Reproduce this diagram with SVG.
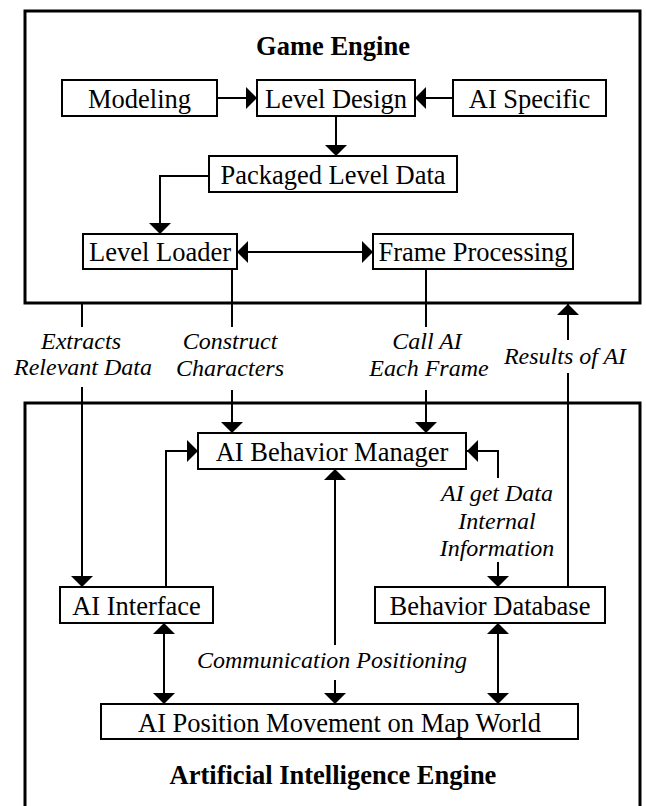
<svg xmlns="http://www.w3.org/2000/svg" width="646" height="806" viewBox="0 0 646 806">
  <style>
    .frame { fill: none; stroke: #000; stroke-width: 3; }
    .box { fill: #fff; stroke: #000; stroke-width: 2; }
    .node { font-family: "Liberation Serif", "Times New Roman", serif; font-size: 26.5px; text-anchor: middle; fill: #000; }
    .title { font-family: "Liberation Serif", "Times New Roman", serif; font-size: 26.5px; font-weight: bold; text-anchor: middle; fill: #000; }
    .lbl { font-family: "Liberation Serif", "Times New Roman", serif; font-size: 24px; font-style: italic; text-anchor: middle; fill: #000; }
    .wire { fill: none; stroke: #000; stroke-width: 2; }
  </style>
  <defs>
    <marker id="head" markerUnits="userSpaceOnUse" viewBox="0 0 11 22" markerWidth="11" markerHeight="22" refX="11" refY="11" orient="auto-start-reverse">
      <path d="M0,0 L11,11 L0,22 Z" fill="#000"/>
    </marker>
  </defs>
  <rect width="646" height="806" fill="#fff"/>

  <!-- engine frames -->
  <g id="game-engine">
    <rect class="frame" x="25" y="11" width="615" height="292"/>
    <text class="title" x="333" y="55">Game Engine</text>
  </g>
  <g id="ai-engine">
    <rect class="frame" x="25" y="403" width="615" height="420"/>
    <text class="title" x="333" y="784">Artificial Intelligence Engine</text>
  </g>

  <!-- connectors -->
  <g id="connectors">
    <line class="wire" x1="217" y1="98" x2="257" y2="98" marker-end="url(#head)"/>
    <line class="wire" x1="453" y1="98" x2="415" y2="98" marker-end="url(#head)"/>
    <line class="wire" x1="336" y1="116" x2="336" y2="156" marker-end="url(#head)"/>
    <path class="wire" d="M209,176 H160 V234" marker-end="url(#head)"/>
    <line class="wire" x1="237" y1="252" x2="373" y2="252" marker-start="url(#head)" marker-end="url(#head)"/>

    <!-- Extracts Relevant Data -->
    <line class="wire" x1="82" y1="304" x2="82" y2="327"/>
    <line class="wire" x1="82" y1="387" x2="82" y2="587" marker-end="url(#head)"/>
    <text class="lbl" x="81" y="349">Extracts</text>
    <text class="lbl" x="83" y="375">Relevant Data</text>

    <!-- Construct Characters -->
    <line class="wire" x1="232" y1="269" x2="232" y2="327"/>
    <line class="wire" x1="232" y1="390" x2="232" y2="433" marker-end="url(#head)"/>
    <text class="lbl" x="230" y="349">Construct</text>
    <text class="lbl" x="230" y="376">Characters</text>

    <!-- Call AI Each Frame -->
    <line class="wire" x1="426" y1="269" x2="426" y2="327"/>
    <line class="wire" x1="426" y1="390" x2="426" y2="433" marker-end="url(#head)"/>
    <text class="lbl" x="427" y="349">Call AI</text>
    <text class="lbl" x="429" y="376">Each Frame</text>

    <!-- Results of AI -->
    <line class="wire" x1="568" y1="340" x2="568" y2="304" marker-end="url(#head)"/>
    <line class="wire" x1="568" y1="373" x2="568" y2="587"/>
    <text class="lbl" x="565" y="364">Results of AI</text>

    <!-- AI Interface to Behavior Manager -->
    <path class="wire" d="M166,587 V451 H198" marker-end="url(#head)"/>

    <!-- AI get Data / Internal Information -->
    <path class="wire" d="M498,478 V451 H467" marker-end="url(#head)"/>
    <line class="wire" x1="498" y1="562" x2="498" y2="587" marker-end="url(#head)"/>
    <text class="lbl" x="497" y="501">AI get Data</text>
    <text class="lbl" x="497" y="529">Internal</text>
    <text class="lbl" x="497" y="556">Information</text>

    <!-- Communication Positioning -->
    <line class="wire" x1="335" y1="645" x2="335" y2="469" marker-end="url(#head)"/>
    <line class="wire" x1="335" y1="680" x2="335" y2="704" marker-end="url(#head)"/>
    <text class="lbl" x="332" y="668">Communication Positioning</text>

    <line class="wire" x1="164" y1="623" x2="164" y2="704" marker-start="url(#head)" marker-end="url(#head)"/>
    <line class="wire" x1="498" y1="623" x2="498" y2="704" marker-start="url(#head)" marker-end="url(#head)"/>
  </g>

  <!-- nodes -->
  <g id="modeling">
    <rect class="box" x="62" y="80" width="155" height="36"/>
    <text class="node" x="139.5" y="108">Modeling</text>
  </g>
  <g id="level-design">
    <rect class="box" x="257" y="80" width="158" height="36"/>
    <text class="node" x="336" y="108">Level Design</text>
  </g>
  <g id="ai-specific">
    <rect class="box" x="453" y="80" width="153" height="36"/>
    <text class="node" x="529.5" y="108">AI Specific</text>
  </g>
  <g id="packaged-level-data">
    <rect class="box" x="209" y="156" width="248" height="36"/>
    <text class="node" x="333" y="184">Packaged Level Data</text>
  </g>
  <g id="level-loader">
    <rect class="box" x="83" y="234" width="154" height="35"/>
    <text class="node" x="160" y="261">Level Loader</text>
  </g>
  <g id="frame-processing">
    <rect class="box" x="373" y="234" width="200" height="35"/>
    <text class="node" x="473" y="261">Frame Processing</text>
  </g>
  <g id="ai-behavior-manager">
    <rect class="box" x="198" y="433" width="268" height="36"/>
    <text class="node" x="332" y="461">AI Behavior Manager</text>
  </g>
  <g id="ai-interface">
    <rect class="box" x="60" y="587" width="153" height="36"/>
    <text class="node" x="136.5" y="615">AI Interface</text>
  </g>
  <g id="behavior-database">
    <rect class="box" x="375" y="587" width="230" height="36"/>
    <text class="node" x="490" y="615">Behavior Database</text>
  </g>
  <g id="ai-position-movement">
    <rect class="box" x="101" y="704" width="477" height="35"/>
    <text class="node" x="339.5" y="732">AI Position Movement on Map World</text>
  </g>
</svg>
